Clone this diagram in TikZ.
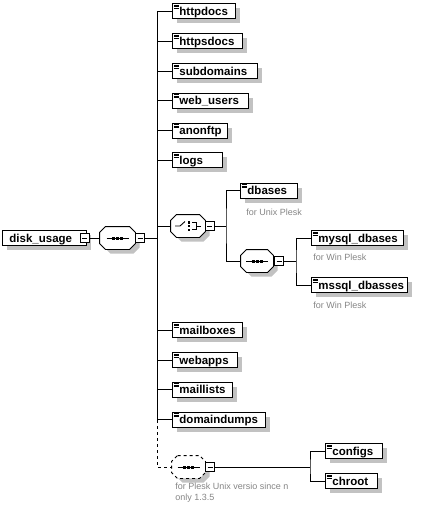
\documentclass[tikz,border=0pt]{standalone}
\usepackage{fontspec}
\setmainfont{Liberation Sans}
\usepackage{tikz}
\usetikzlibrary{positioning}
\colorlet{shadowgrey}{black!24}
\colorlet{notegrey}{black!48}
\tikzset{elem/.style = {draw, fill = white, anchor = west, inner xsep = 0, inner ysep = 0,
    text width = #1, align = left, minimum height = 15, text height = 10pt, text depth = 1.5pt,
    font = \bfseries\fontsize{11.5}{13}\selectfont, execute at begin node = \hspace*{7pt}}}
\tikzset{minus/.style = {draw, fill = white, minimum size = 9, inner sep = 0}}
\tikzset{octo/.style = {minimum width = #1, minimum height = 22, inner sep = 0}}
\tikzset{octopath/.style n args = {3}{insert path = {
    ([shift = {(#2 + 6pt, #3)}]#1.north west) -- ([shift = {(#2 - 6pt, #3)}]#1.north east)
    -- ([shift = {(#2, #3 - 6pt)}]#1.north east) -- ([shift = {(#2, #3 + 6pt)}]#1.south east)
    -- ([shift = {(#2 - 6pt, #3)}]#1.south east) -- ([shift = {(#2 + 6pt, #3)}]#1.south west)
    -- ([shift = {(#2, #3 + 6pt)}]#1.south west) -- ([shift = {(#2, #3 - 6pt)}]#1.north west) -- cycle}}}
\tikzset{note/.style = {text = notegrey, inner sep = 0, font = \fontsize{9}{11}\selectfont}}

\begin{document}
\begin{tikzpicture}[x = 1pt, y = -1pt, line width = 0.9pt]
    \useasboundingbox (0, 0) rectangle (425, 509);

    % shadows
    \fill [shadowgrey] (6.5, 235) rectangle (90.5, 250);
    \fill [shadowgrey] (176.5, 8) rectangle (239.5, 23);
    \fill [shadowgrey] (176.5, 38) rectangle (246.5, 53);
    \fill [shadowgrey] (176.5, 68) rectangle (261.5, 83);
    \fill [shadowgrey] (176.5, 97.5) rectangle (252.5, 112.5);
    \fill [shadowgrey] (176.5, 127.5) rectangle (231.5, 142.5);
    \fill [shadowgrey] (176.5, 157) rectangle (226.5, 172);
    \fill [shadowgrey] (244.5, 187.5) rectangle (301.5, 202.5);
    \fill [shadowgrey] (315.5, 235) rectangle (407.5, 250);
    \fill [shadowgrey] (315.5, 282) rectangle (411.5, 297);
    \fill [shadowgrey] (176.5, 327) rectangle (246.5, 342);
    \fill [shadowgrey] (176.5, 357) rectangle (241.5, 372);
    \fill [shadowgrey] (176.5, 386.5) rectangle (236.5, 401.5);
    \fill [shadowgrey] (176.5, 416.5) rectangle (269.5, 431.5);
    \fill [shadowgrey] (329.5, 448) rectangle (386.5, 463);
    \fill [shadowgrey] (329.5, 478) rectangle (381.5, 493);

    \fill [shadowgrey] (110.5, 231.5) -- (133.5, 231.5) -- (139.5, 237.5) -- (139.5, 247.5)
      -- (133.5, 253.5) -- (110.5, 253.5) -- (104.5, 247.5) -- (104.5, 237.5) -- cycle;
    \fill [shadowgrey] (181.5, 219.5) -- (203.5, 219.5) -- (209.5, 225.5) -- (209.5, 235.5)
      -- (203.5, 241.5) -- (181.5, 241.5) -- (175.5, 235.5) -- (175.5, 225.5) -- cycle;
    \fill [shadowgrey] (251.5, 254.5) -- (271.5, 254.5) -- (277.5, 260.5) -- (277.5, 270.5)
      -- (271.5, 276.5) -- (251.5, 276.5) -- (245.5, 270.5) -- (245.5, 260.5) -- cycle;
    \fill [shadowgrey] (182.5, 460.5) -- (203.5, 460.5) -- (209.5, 466.5) -- (209.5, 476.5)
      -- (203.5, 482.5) -- (182.5, 482.5) -- (176.5, 476.5) -- (176.5, 466.5) -- cycle;

    % elements
    \node [elem = 84pt] (disk) at (2, 238) {disk\_usage};

    \node [elem = 63pt] (httpdocs) at (172, 11) {httpdocs};
    \node [elem = 70pt] (httpsdocs) at (172, 41) {httpsdocs};
    \node [elem = 85pt] (subdomains) at (172, 71) {subdomains};
    \node [elem = 76pt] (webusers) at (172, 100.5) {web\_users};
    \node [elem = 55pt] (anonftp) at (172, 130.5) {anonftp};
    \node [elem = 50pt] (logs) at (172, 160) {logs};

    \node [elem = 57pt] (dbases) at (240, 190.5) {dbases};
    \node [elem = 92pt] (mysql) at (311, 238) {mysql\_dbases};
    \node [elem = 96pt] (mssql) at (311, 285) {mssql\_dbasses};

    \node [elem = 70pt] (mailboxes) at (172, 330) {mailboxes};
    \node [elem = 65pt] (webapps) at (172, 360) {webapps};
    \node [elem = 60pt] (maillists) at (172, 389.5) {maillists};
    \node [elem = 93pt] (domaindumps) at (172, 419.5) {domaindumps};

    \node [elem = 57pt] (configs) at (325, 451) {configs};
    \node [elem = 52pt] (chroot) at (325, 481) {chroot};

    \foreach \n in {httpdocs, httpsdocs, subdomains, webusers, anonftp, logs, dbases, mysql, mssql,
        mailboxes, webapps, maillists, domaindumps, configs, chroot} {
      \draw [line width = 0.7pt] ([shift = {(1.5pt, -2pt)}]\n.north west) -- +(5pt, 0pt);
      \draw [line width = 0.7pt] ([shift = {(1.5pt, -3.5pt)}]\n.north west) -- +(5pt, 0pt);
      \draw [line width = 0.7pt] ([shift = {(1.5pt, -5pt)}]\n.north west) -- +(5pt, 0pt);
    }

    % compositors
    \node [octo = 35] (seq) at (117.5, 238) {};
    \node [octo = 34] (choice) at (188, 226) {};
    \node [octo = 32] (dbseq) at (257, 261) {};
    \node [octo = 33] (optseq) at (188.5, 467) {};

    \foreach \n in {seq, choice, dbseq}
      \draw [fill = white, octopath = {\n}{0pt}{0pt}];
    \draw [fill = white, dashed, octopath = {optseq}{0pt}{0pt}];

    \foreach \n in {seq, dbseq, optseq} {
      \draw ([xshift = -11pt]\n.center) -- ([xshift = 11pt]\n.center);
      \fill ([shift = {(-5.5pt, -1.5pt)}]\n.center) rectangle +(3pt, 3pt);
      \fill ([shift = {(-1.5pt, -1.5pt)}]\n.center) rectangle +(3pt, 3pt);
      \fill ([shift = {(2.5pt, -1.5pt)}]\n.center) rectangle +(3pt, 3pt);
    }

    \draw ([xshift = -13pt]choice.center) -- ([xshift = -8pt]choice.center) -- ([shift = {(-3pt, 4.5pt)}]choice.center);
    \fill ([shift = {(-0.5pt, 2.5pt)}]choice.center) rectangle +(2.5pt, 2.5pt);
    \fill ([shift = {(-0.5pt, -1.25pt)}]choice.center) rectangle +(2.5pt, 2.5pt);
    \fill ([shift = {(-0.5pt, -5pt)}]choice.center) rectangle +(2.5pt, 2.5pt);
    \draw ([shift = {(4pt, 3.5pt)}]choice.center) -- ([shift = {(8pt, 3.5pt)}]choice.center)
      -- ([shift = {(8pt, -3.5pt)}]choice.center) -- ([shift = {(4pt, -3.5pt)}]choice.center);
    \draw ([xshift = 8pt]choice.center) -- ([xshift = 13pt]choice.center);

    % expanders
    \node [minus] (diskmin) at (84.5, 238) {};
    \node [minus] (seqmin) at (140, 238) {};
    \node [minus] (choicemin) at (209.5, 226) {};
    \node [minus] (dbseqmin) at (279, 261) {};
    \node [minus] (optmin) at (210, 467) {};
    \foreach \n in {diskmin, seqmin, choicemin, dbseqmin, optmin}
      \draw ([xshift = -2.5pt]\n.center) -- ([xshift = 2.5pt]\n.center);

    % notes
    \node [note, anchor = west] (dbasesnote) at (246, 212) {for Unix Plesk};
    \node [note, anchor = west] (mysqlnote) at (313, 257) {for Win Plesk};
    \node [note, anchor = west] (mssqlnote) at (313, 305) {for Win Plesk};
    \node [note, anchor = north west, align = left] (optnote) at (175, 483)
      {for Plesk Unix versio since n\\only 1.3.5};

    \coordinate (bus) at (157, 238);
    \coordinate (bustop) at (157, 11);
    \coordinate (busend) at (157, 420);
    \coordinate (busopt) at (157, 467);
    \coordinate (cbranch) at (226, 226);
    \coordinate (dbbranch) at (296, 261);
    \coordinate (optbranch) at (310, 467);

    % connectors
    \draw (diskmin) -- (seq);
    \draw (seqmin) -- (bus);
    \draw (bustop) -- (busend);
    \draw [dashed] (busend) -- (busopt) -- (optseq);

    \draw (httpdocs.west) -- (httpdocs.west -| bus);
    \draw (httpsdocs.west) -- (httpsdocs.west -| bus);
    \draw (subdomains.west) -- (subdomains.west -| bus);
    \draw (webusers.west) -- (webusers.west -| bus);
    \draw (anonftp.west) -- (anonftp.west -| bus);
    \draw (logs.west) -- (logs.west -| bus);
    \draw (choice.west) -- (choice.west -| bus);
    \draw (mailboxes.west) -- (mailboxes.west -| bus);
    \draw (webapps.west) -- (webapps.west -| bus);
    \draw (maillists.west) -- (maillists.west -| bus);
    \draw (domaindumps.west) -- (domaindumps.west -| bus);

    \draw (choicemin) -- (cbranch);
    \draw (dbases.west) -| (cbranch) |- (dbseq.west);
    \draw (dbseqmin) -- (dbbranch);
    \draw (mysql.west) -| (dbbranch) |- (mssql.west);

    \draw (optmin) -- (optbranch);
    \draw (configs.west) -| (optbranch) |- (chroot.west);
  \end{tikzpicture}
\end{document}
